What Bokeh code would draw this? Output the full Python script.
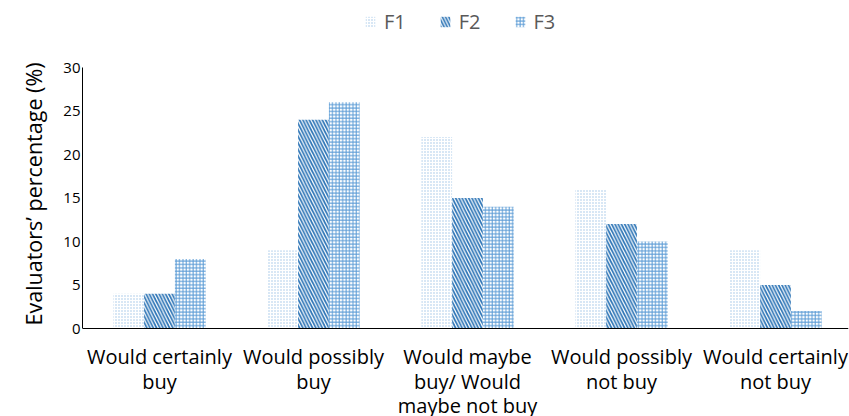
from bokeh.plotting import figure
from bokeh.models import Legend, LegendItem, Range1d, Span, ColumnDataSource, Title
from bokeh.core.properties import value
from bokeh.embed import file_html
from bokeh.resources import INLINE

categories = ["Would certainly buy", "Would possibly buy", "Would maybe buy/ Would maybe not buy",
              "Would possibly not buy", "Would certainly not buy"]
label_lines = [["Would certainly", "buy"], ["Would possibly", "buy"],
               ["Would maybe", "buy/ Would", "maybe not buy"],
               ["Would possibly", "not buy"], ["Would certainly", "not buy"]]
F1 = [4, 9, 22, 16, 9]
F2 = [4, 24, 15, 12, 5]
F3 = [8, 26, 14, 10, 2]
yticks = [0, 5, 10, 15, 20, 25, 30]
y_title = "Evaluators’ percentage (%)"

# layout: plot area 0..30 maps to pixels 328..67 of a 416-high canvas
H, TOP, BOT = 416, 67, 328
upp = 30.0 / (BOT - TOP)
y_lo = -(H - BOT) * upp
y_hi = 30 + TOP * upp
LEFT, RIGHT, CAT_W = 82, 848, 154.0

xc = [i + 0.5 for i in range(len(categories))]

p = figure(width=849, height=416, x_range=Range1d(0, (RIGHT - LEFT) / CAT_W), y_range=Range1d(y_lo, y_hi),
           output_backend="svg", toolbar_location=None,
           min_border_left=LEFT, min_border_right=849 - RIGHT, min_border_top=0, min_border_bottom=0)
p.outline_line_color = None
p.grid.visible = False
p.xaxis.visible = False

font = "Open Sans"
series = [("F1", F1, "#9DC3E6", ".", 3, 1.6), ("F2", F2, "#2E75B6", "\\", 6.5, 1.7),
          ("F3", F3, "#5B9BD5", "+", 3.4, 1.0)]
offsets = [-0.2, 0.0, 0.2]
items = []
for (name, vals, col, pat, sc, wt), off in zip(series, offsets):
    src = ColumnDataSource(dict(x=[c + off for c in xc], top=vals))
    r = p.vbar(x="x", top="top", bottom=0, width=0.2, source=src,
               fill_color="white", line_color=None, hatch_pattern=pat, hatch_color=col,
               hatch_scale=sc, hatch_weight=wt)
    items.append(LegendItem(label=name, renderers=[r]))

legend = Legend(items=items, orientation="horizontal", location=(282, 381),
                label_text_font=font, label_text_font_size="20px", label_text_color="#595959",
                border_line_color=None, background_fill_alpha=0, glyph_width=12, glyph_height=13,
                spacing=33, padding=4, margin=0, label_standoff=8)
p.add_layout(legend, "center")

p.yaxis.ticker = yticks
p.yaxis.bounds = (0, 30)
p.yaxis.major_label_text_font = font
p.yaxis.major_label_text_font_size = "15px"
p.yaxis.major_label_text_color = "#000000"
p.yaxis.major_label_standoff = 2
p.yaxis.major_tick_out = 0
p.yaxis.major_tick_in = 0
p.yaxis.major_tick_line_color = None
p.yaxis.minor_tick_line_color = None
p.yaxis.axis_line_color = "black"

p.add_layout(Title(text=y_title, align="left", offset=H - 325, text_font=font,
                   text_font_size="21.5px", text_font_style="normal", text_color="#000000",
                   standoff=26), "left")

p.add_layout(Span(location=0, dimension="width", line_color="black", line_width=1))

lx, ly, lt = [], [], []
for x, lines in zip(xc, label_lines):
    for j, t in enumerate(lines):
        lx.append(x)
        ly.append(j)
        lt.append(t)
lsrc = ColumnDataSource(dict(x=lx, y=[-(28 + 24.5 * j) * upp for j in ly], t=lt))
p.text(x="x", y="y", text="t", source=lsrc, text_align="center", text_baseline="middle",
       text_font=value(font), text_font_size="20px", text_color="#000000")

open("out.html", "w").write(file_html(p, INLINE))
